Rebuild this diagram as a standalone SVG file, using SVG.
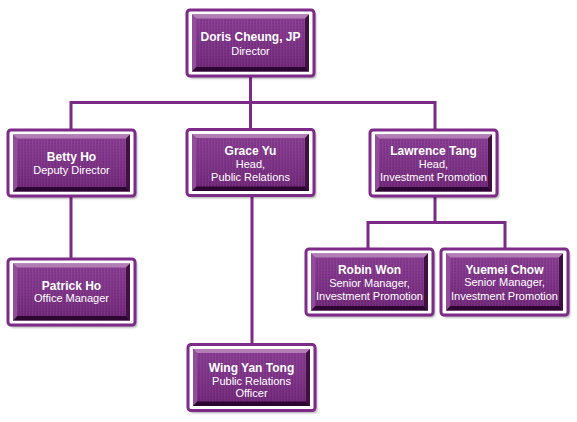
<svg xmlns="http://www.w3.org/2000/svg" xmlns:xlink="http://www.w3.org/1999/xlink" width="577" height="422" viewBox="0 0 577 422">
<style>
.ln{fill:none;stroke:#7b2a88;stroke-width:3;stroke-linejoin:miter}
.t{font-family:"Liberation Sans",Arial,sans-serif;fill:#ffffff;text-anchor:middle}
.b{font-size:12px;font-weight:bold}
.r{font-size:11px}
</style>
<defs>
<filter id="sh" x="-10%" y="-10%" width="130%" height="130%">
<feGaussianBlur stdDeviation="1.3"/>
</filter>
<pattern id="grain" width="3" height="3" patternUnits="userSpaceOnUse">
<rect width="3" height="3" fill="#7b2a83"/>
<rect width="1" height="3" fill="#843390"/>
<rect x="2" y="1" width="1" height="1" fill="#70227a"/>
</pattern>
<linearGradient id="shade" x1="0" y1="0" x2="0" y2="1">
<stop offset="0" stop-color="#ffffff" stop-opacity="0.08"/>
<stop offset="1" stop-color="#000000" stop-opacity="0.12"/>
</linearGradient>
<g id="frame">
<rect x="2" y="2.5" width="127" height="66" rx="3" fill="#000" opacity="0.35" filter="url(#sh)"/>
<rect x="0" y="0" width="127" height="66" rx="3" fill="#ffffff" stroke="#7d2a89" stroke-width="3"/>
<rect x="5" y="4.5" width="117" height="57" fill="url(#grain)"/>
<rect x="5" y="4.5" width="117" height="57" fill="url(#shade)"/>
<polygon points="5,4.5 122,4.5 118,8.5 9,8.5" fill="#b27cb5"/>
<polygon points="5,61.5 122,61.5 118,57 9,57" fill="#2c0630"/>
<polygon points="5,4.5 9,8.5 9,57 5,61.5" fill="#934c9a"/>
<polygon points="122,4.5 118,8.5 118,57 122,61.5" fill="#40103f"/>
</g>
</defs>
<rect width="577" height="422" fill="#ffffff"/>
<g id="connectors">
<path class="ln" d="M250.5 75 V102.5"/>
<path class="ln" d="M71 130 V102.5 H435 V130"/>
<path class="ln" d="M250.5 102.5 V130"/>
<path class="ln" d="M71 196 V259"/>
<path class="ln" d="M252 196 V344"/>
<path class="ln" d="M435 195 V222.5"/>
<path class="ln" d="M368 249 V222.5 H505 V249"/>
</g>
<g id="doris" transform="translate(187,10)">
<use href="#frame"/>
<text class="t b" x="63.5" y="31">Doris Cheung, JP</text>
<text class="t r" x="63.5" y="44.5">Director</text>
</g>
<g id="betty" transform="translate(8,130)">
<use href="#frame"/>
<text class="t b" x="63.5" y="31">Betty Ho</text>
<text class="t r" x="63.5" y="44">Deputy Director</text>
</g>
<g id="grace" transform="translate(187,129.5)">
<use href="#frame"/>
<text class="t b" x="63.5" y="25">Grace Yu</text>
<text class="t r" x="63.5" y="38.5">Head,</text>
<text class="t r" x="63.5" y="51.5">Public Relations</text>
</g>
<g id="lawrence" transform="translate(370,130)">
<use href="#frame"/>
<text class="t b" x="63.5" y="24.5">Lawrence Tang</text>
<text class="t r" x="63.5" y="37.5">Head,</text>
<text class="t r" x="63.5" y="50.5">Investment Promotion</text>
</g>
<g id="patrick" transform="translate(8,259)">
<use href="#frame"/>
<text class="t b" x="63.5" y="30.5">Patrick Ho</text>
<text class="t r" x="63.5" y="43">Office Manager</text>
</g>
<g id="robin" transform="translate(306,249)">
<use href="#frame"/>
<text class="t b" x="63.5" y="25">Robin Won</text>
<text class="t r" x="63.5" y="38">Senior Manager,</text>
<text class="t r" x="63.5" y="51">Investment Promotion</text>
</g>
<g id="yuemei" transform="translate(441,249)">
<use href="#frame"/>
<text class="t b" x="63.5" y="24.5">Yuemei Chow</text>
<text class="t r" x="63.5" y="37">Senior Manager,</text>
<text class="t r" x="63.5" y="50.5">Investment Promotion</text>
</g>
<g id="wing" transform="translate(188,344.5)">
<use href="#frame"/>
<text class="t b" x="63.5" y="27">Wing Yan Tong</text>
<text class="t r" x="63.5" y="40">Public Relations</text>
<text class="t r" x="63.5" y="52">Officer</text>
</g>
</svg>
